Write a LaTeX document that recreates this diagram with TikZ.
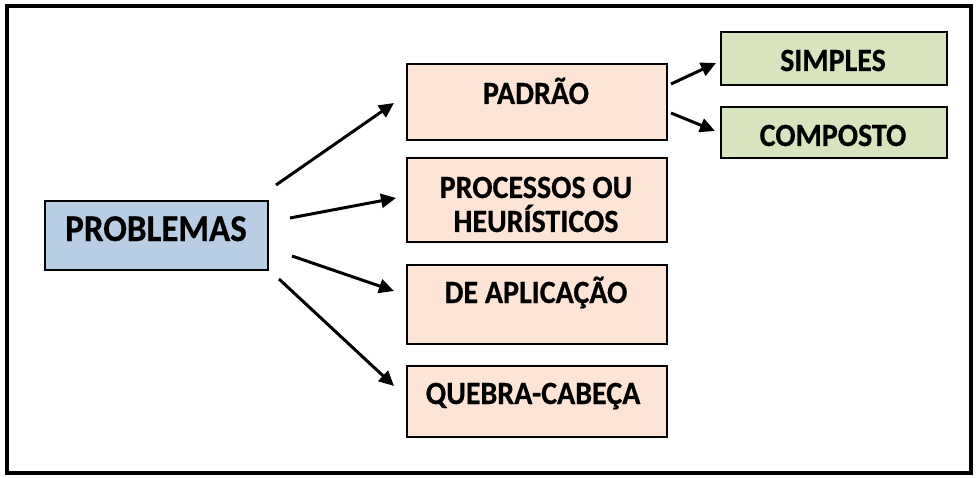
\documentclass[tikz,border=0pt]{standalone}
\usepackage{fontspec}
\setmainfont{Carlito}
\newfontfamily\heavyfont{Carlito Bold}[FakeBold=0.6]
\usetikzlibrary{arrows.meta}
\definecolor{bluefill}{HTML}{B9CDE5}
\definecolor{peachfill}{HTML}{FCE4D6}
\definecolor{greenfill}{HTML}{D7E4BD}
\newcommand{\tallt}[1]{\scalebox{1}[1.08]{#1}}
\tikzset{
  boxbase/.style={draw=black, line width=2pt, inner sep=0pt, anchor=north west},
  bluebox/.style={boxbase, fill=bluefill},
  peachbox/.style={boxbase, fill=peachfill},
  greenbox/.style={boxbase, fill=greenfill},
  lbl/.style={font=\heavyfont\fontsize{30}{34}\selectfont, anchor=base, inner sep=0pt},
  biglbl/.style={font=\heavyfont\fontsize{35}{40}\selectfont, anchor=base, inner sep=0pt},
  arr/.style={line width=3pt, -{Triangle[length=15pt,width=14pt]}}
}
\begin{document}
\begin{tikzpicture}[x=1pt,y=-1pt]
\useasboundingbox (0,0) rectangle (976,478);
\draw[line width=4pt] (7,6) rectangle (971,473);
% boxes
\node[bluebox, minimum width=223pt, minimum height=69pt] (prob) at (44,200) {};
\node[peachbox, minimum width=260pt, minimum height=76pt] (padrao) at (406,63) {};
\node[peachbox, minimum width=260pt, minimum height=84pt] (proc) at (406,157) {};
\node[peachbox, minimum width=260pt, minimum height=79pt] (aplic) at (406,264) {};
\node[peachbox, minimum width=260pt, minimum height=71pt] (quebra) at (406,365) {};
\node[greenbox, minimum width=226pt, minimum height=53pt] (simples) at (720,31) {};
\node[greenbox, minimum width=226pt, minimum height=51pt] (composto) at (720,106) {};
% labels
\node[biglbl] (probT) at (156,241) {\tallt{PROBLEMAS}};
\node[lbl] (padraoT) at (536,104) {\tallt{PADRÃO}};
\node[lbl] (procT1) at (536,198) {\tallt{PROCESSOS OU}};
\node[lbl] (procT2) at (536,232) {\tallt{HEURÍSTICOS}};
\node[lbl] (aplicT) at (536,303) {\tallt{DE APLICAÇÃO}};
\node[lbl] (quebraT) at (533,404) {\tallt{QUEBRA-CABEÇA}};
\node[lbl] (simplesT) at (833,71) {\tallt{SIMPLES}};
\node[lbl] (compostoT) at (833,146) {\tallt{COMPOSTO}};
% arrow endpoints
\coordinate (s1) at (276,185); \coordinate (e1) at (394,103);
\coordinate (s2) at (290,218); \coordinate (e2) at (396,198);
\coordinate (s3) at (292,256); \coordinate (e3) at (394,291);
\coordinate (s4) at (279,279); \coordinate (e4) at (394,386);
\coordinate (s5) at (671,84); \coordinate (e5) at (716,63);
\coordinate (s6) at (671,113); \coordinate (e6) at (715,131);
\draw[arr] (s1) -- (e1);
\draw[arr] (s2) -- (e2);
\draw[arr] (s3) -- (e3);
\draw[arr] (s4) -- (e4);
\draw[arr] (s5) -- (e5);
\draw[arr] (s6) -- (e6);
\end{tikzpicture}
\end{document}
